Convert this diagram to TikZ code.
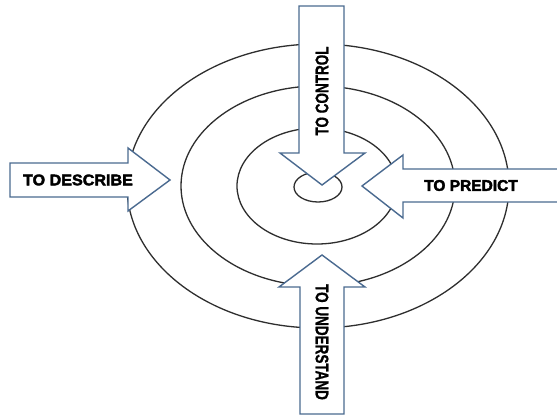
\documentclass[tikz,border=0pt]{standalone}
\usepackage{fontspec}
\setmainfont{Liberation Sans}
\newfontfamily\heavyfont[FakeBold=2.5]{Liberation Sans Bold}
\newfontfamily\tallfont[FakeBold=1]{Liberation Sans Bold}
\definecolor{arrowline}{HTML}{4A6A90}
\definecolor{ringline}{HTML}{2E2E2E}
\begin{document}
\begin{tikzpicture}[x=1pt,y=-1pt,
  ring/.style={draw=ringline,line width=1.3pt},
  bigarrow/.style={draw=arrowline,fill=white,line width=1.4pt,line join=miter},
  sidelabel/.style={font=\heavyfont\fontsize{15.5}{16}\selectfont,inner sep=0pt,text=black},
  uplabel/.style={font=\tallfont\fontsize{13.5}{14}\selectfont,inner sep=0pt,text=black}]
  \useasboundingbox (0,0) rectangle (557,417);
  \fill[white] (0,0) rectangle (557,417);
  % concentric rings of the target
  \draw[ring] (318,186) ellipse [x radius=191, y radius=142];
  \draw[ring] (318,186) ellipse [x radius=137, y radius=100];
  \draw[ring] (317,186) ellipse [x radius=80, y radius=58];
  \draw[ring] (318,187) ellipse [x radius=24, y radius=15];
  % block arrows pointing at the centre
  \draw[bigarrow] (299,6) -- (344,6) -- (344,153) -- (365,153) -- (322,185)
    -- (280,153) -- (299,153) -- cycle;
  \draw[bigarrow] (300,414) -- (344,414) -- (344,287) -- (365,287) -- (322,255)
    -- (279,287) -- (300,287) -- cycle;
  \draw[bigarrow] (10,163) -- (128,163) -- (128,148) -- (170,180) -- (128,211)
    -- (128,197) -- (10,197) -- cycle;
  \draw[bigarrow] (570,169) -- (403,169) -- (403,155) -- (362,186) -- (403,218)
    -- (403,202) -- (570,202) -- cycle;
  % labels
  \node[sidelabel] (describe) at (78,180) {\scalebox{1.04}[1]{TO DESCRIBE}};
  \node[sidelabel] (predict) at (471,185.5) {TO PREDICT};
  \node[uplabel,rotate=90] (control) at (322,91) {\scalebox{1}[1.35]{TO CONTROL}};
  \node[uplabel,rotate=-90] (understand) at (322,342) {\scalebox{1}[1.35]{TO UNDERSTAND}};
\end{tikzpicture}
\end{document}
